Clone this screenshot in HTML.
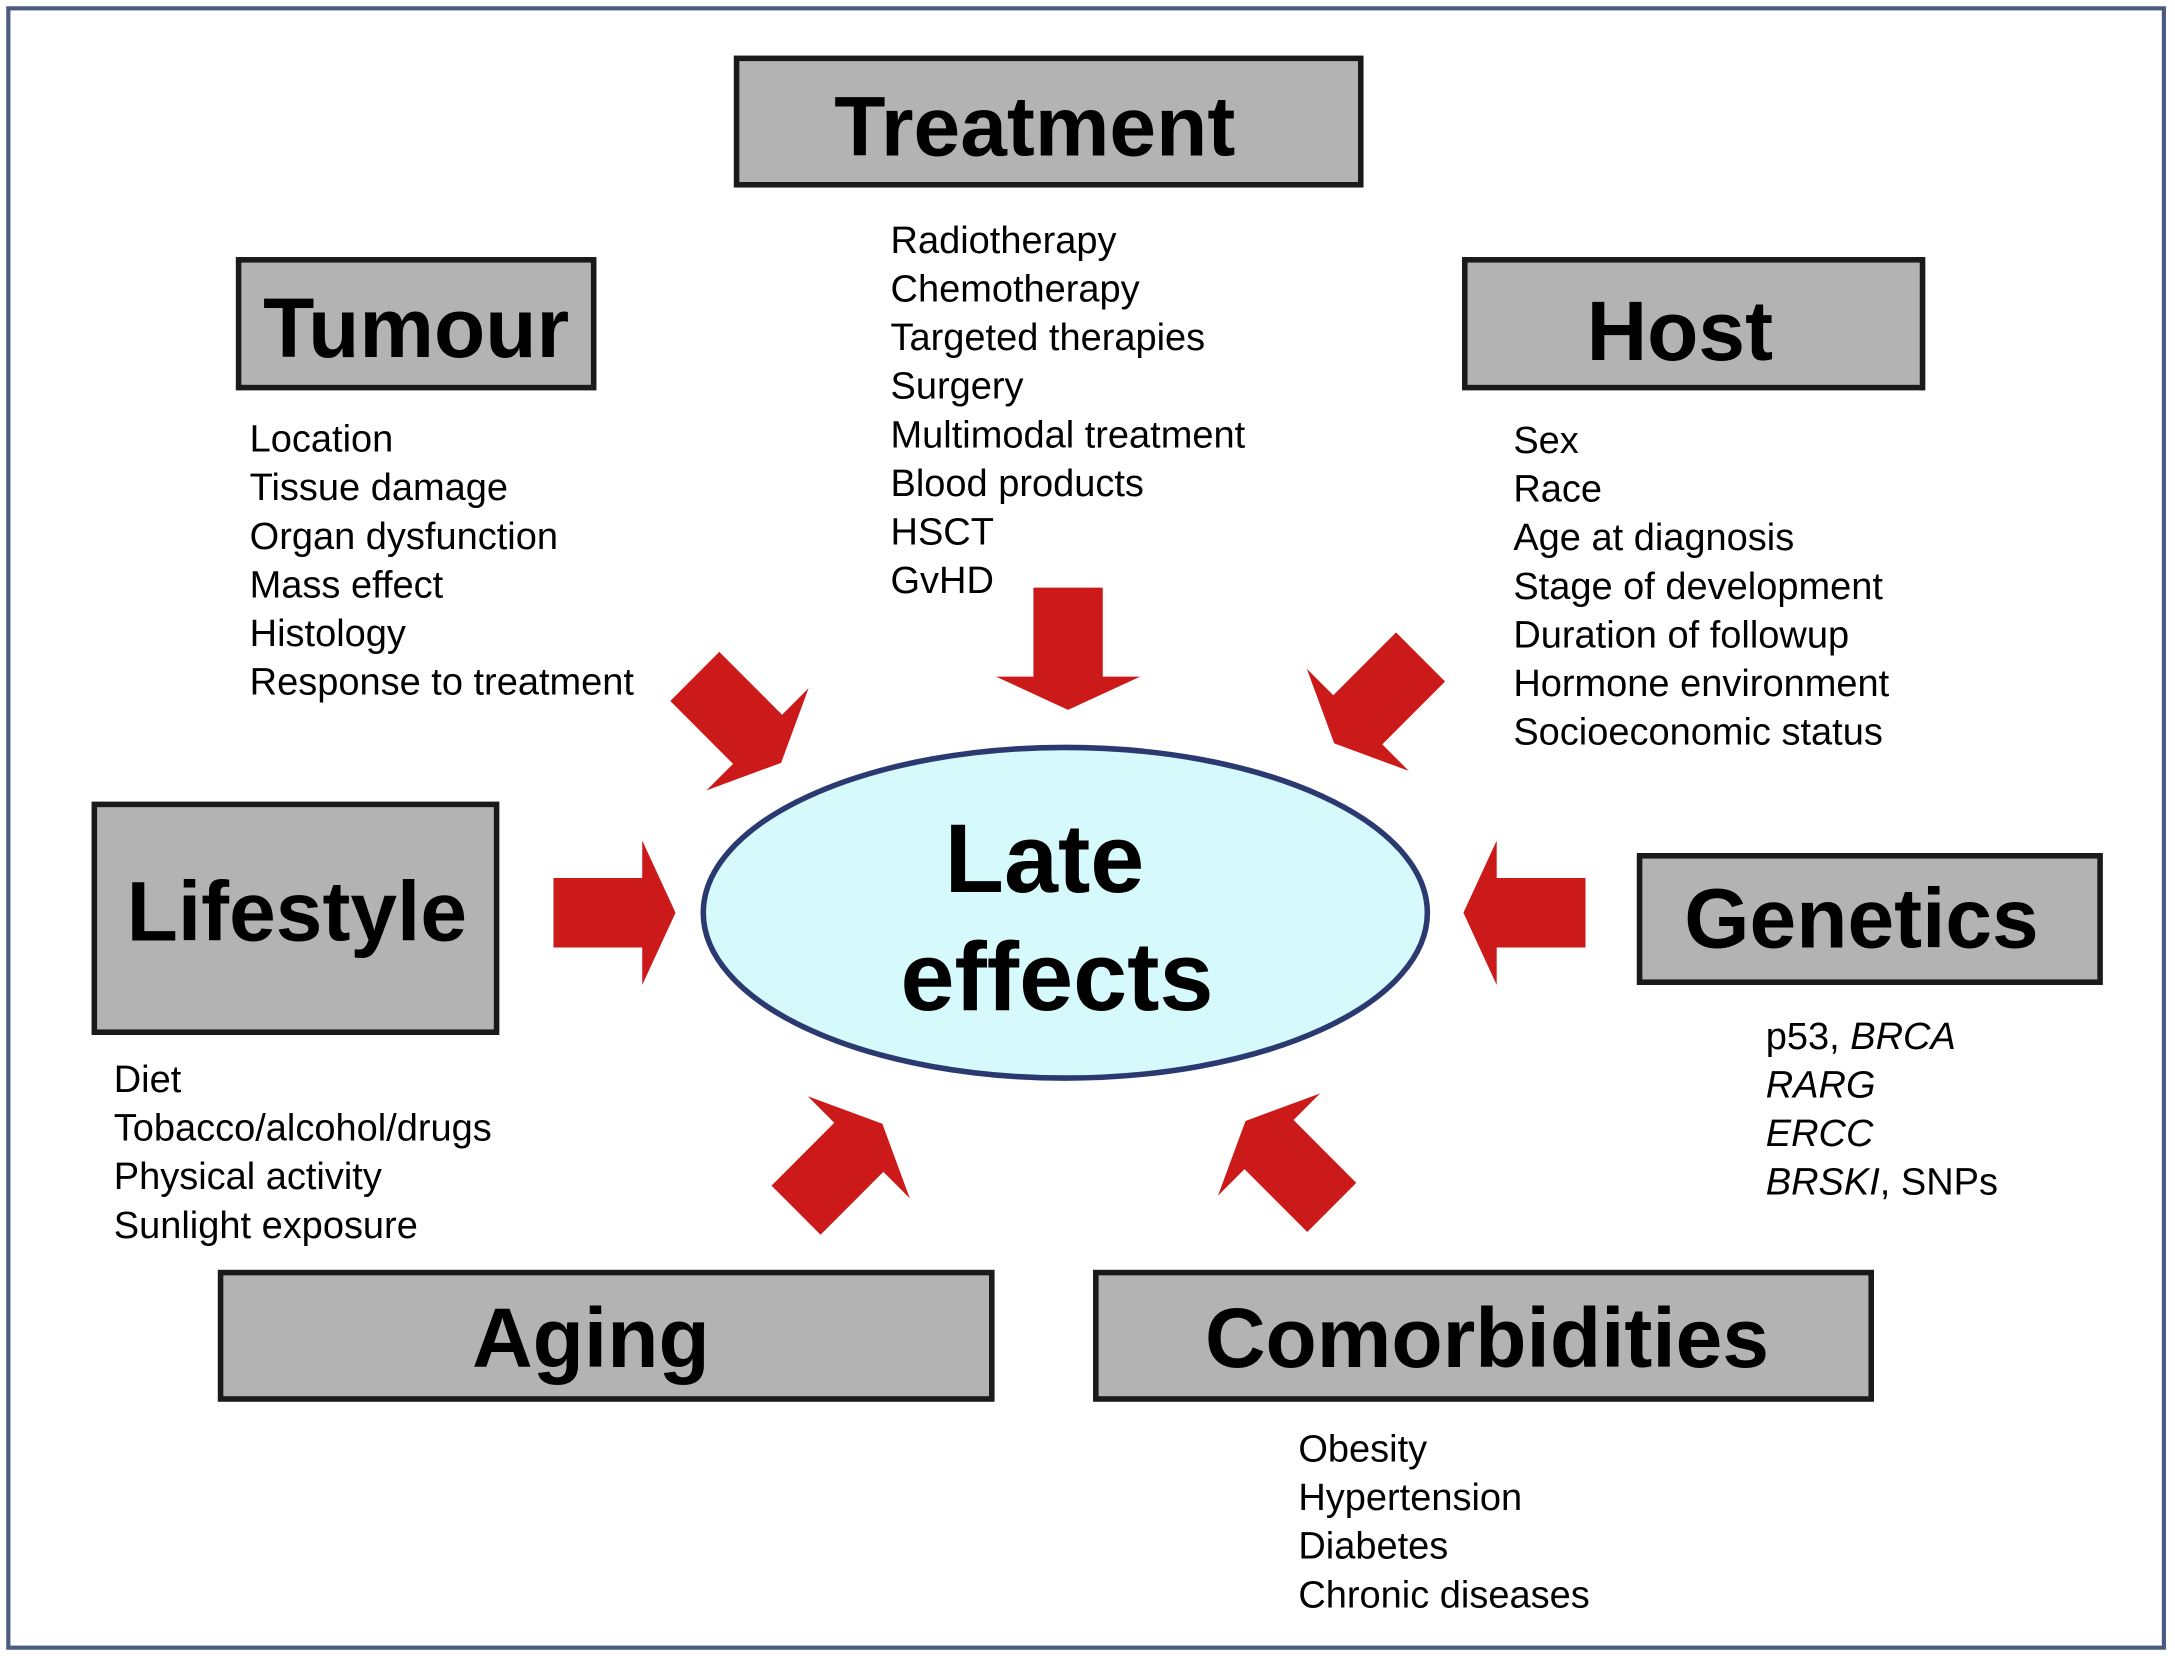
<!DOCTYPE html>
<html><head><meta charset="utf-8"><style>
html,body{margin:0;padding:0;background:#fff;}
svg{display:block;}
text{font-family:"Liberation Sans",sans-serif;fill:#000;}
.h{font-weight:bold;font-size:60.5px;text-anchor:middle;}
.l{font-size:27.4px;}
.b{fill:#b3b3b3;stroke:#1a1a1a;stroke-width:4;}
.a{fill:#cc1a1a;}
</style></head><body>
<svg width="2175" height="1656" viewBox="0 0 1568 1192" preserveAspectRatio="none">
<rect x="6" y="6" width="1554" height="1180" fill="#fff" stroke="#4a5a80" stroke-width="3"/>
<defs><path id="ar" d="M-44,-25 L20,-25 L20,-52 L44,0 L20,52 L20,25 L-44,25 Z"/></defs>

<rect class="b" x="531" y="42" width="450" height="91"/><text class="h" x="746" y="112">Treatment</text>
<rect class="b" x="172" y="187" width="256" height="92"/><text class="h" x="300" y="257">Tumour</text>
<rect class="b" x="1056" y="187" width="330" height="92"/><text class="h" x="1211" y="259">Host</text>
<rect class="b" x="68" y="579" width="290" height="164"/><text class="h" x="214" y="677">Lifestyle</text>
<rect class="b" x="1182" y="616" width="332" height="91"/><text class="h" x="1342" y="682">Genetics</text>
<rect class="b" x="159" y="916" width="556" height="91"/><text class="h" x="426" y="984">Aging</text>
<rect class="b" x="790" y="916" width="559" height="91"/><text class="h" x="1072" y="984">Comorbidities</text>

<ellipse cx="768" cy="657" rx="261" ry="119" fill="#d6fafc" stroke="#2a3a70" stroke-width="4"/>
<text class="h" style="font-size:70px" x="753" y="642">Late</text>
<text class="h" style="font-size:70px" x="762" y="727">effects</text>

<use href="#ar" class="a" transform="translate(770,467) rotate(90)"/>
<use href="#ar" class="a" transform="translate(443,657)"/>
<use href="#ar" class="a" transform="translate(1099,657) rotate(180)"/>
<use href="#ar" class="a" transform="translate(532,518) rotate(45)"/>
<use href="#ar" class="a" transform="translate(993,504) rotate(135)"/>
<use href="#ar" class="a" transform="translate(605,840) rotate(-45)"/>
<use href="#ar" class="a" transform="translate(929,838) rotate(-135)"/>

<g class="l">
<text class="l" x="642" y="182">Radiotherapy</text>
<text class="l" x="642" y="217">Chemotherapy</text>
<text class="l" x="642" y="252">Targeted therapies</text>
<text class="l" x="642" y="287">Surgery</text>
<text class="l" x="642" y="322">Multimodal treatment</text>
<text class="l" x="642" y="357">Blood products</text>
<text class="l" x="642" y="392">HSCT</text>
<text class="l" x="642" y="427">GvHD</text>

<text class="l" x="180" y="325">Location</text>
<text class="l" x="180" y="360">Tissue damage</text>
<text class="l" x="180" y="395">Organ dysfunction</text>
<text class="l" x="180" y="430">Mass effect</text>
<text class="l" x="180" y="465">Histology</text>
<text class="l" x="180" y="500">Response to treatment</text>

<text class="l" x="1091" y="326">Sex</text>
<text class="l" x="1091" y="361">Race</text>
<text class="l" x="1091" y="396">Age at diagnosis</text>
<text class="l" x="1091" y="431">Stage of development</text>
<text class="l" x="1091" y="466">Duration of followup</text>
<text class="l" x="1091" y="501">Hormone environment</text>
<text class="l" x="1091" y="536">Socioeconomic status</text>

<text class="l" x="82" y="786">Diet</text>
<text class="l" x="82" y="821">Tobacco/alcohol/drugs</text>
<text class="l" x="82" y="856">Physical activity</text>
<text class="l" x="82" y="891">Sunlight exposure</text>

<text class="l" x="1273" y="755">p53, <tspan font-style="italic">BRCA</tspan></text>
<text class="l" x="1273" y="790" font-style="italic">RARG</text>
<text class="l" x="1273" y="825" font-style="italic">ERCC</text>
<text class="l" x="1273" y="860"><tspan font-style="italic">BRSKI</tspan>, SNPs</text>

<text class="l" x="936" y="1052">Obesity</text>
<text class="l" x="936" y="1087">Hypertension</text>
<text class="l" x="936" y="1122">Diabetes</text>
<text class="l" x="936" y="1157">Chronic diseases</text>
</g>
</svg>
</body></html>
